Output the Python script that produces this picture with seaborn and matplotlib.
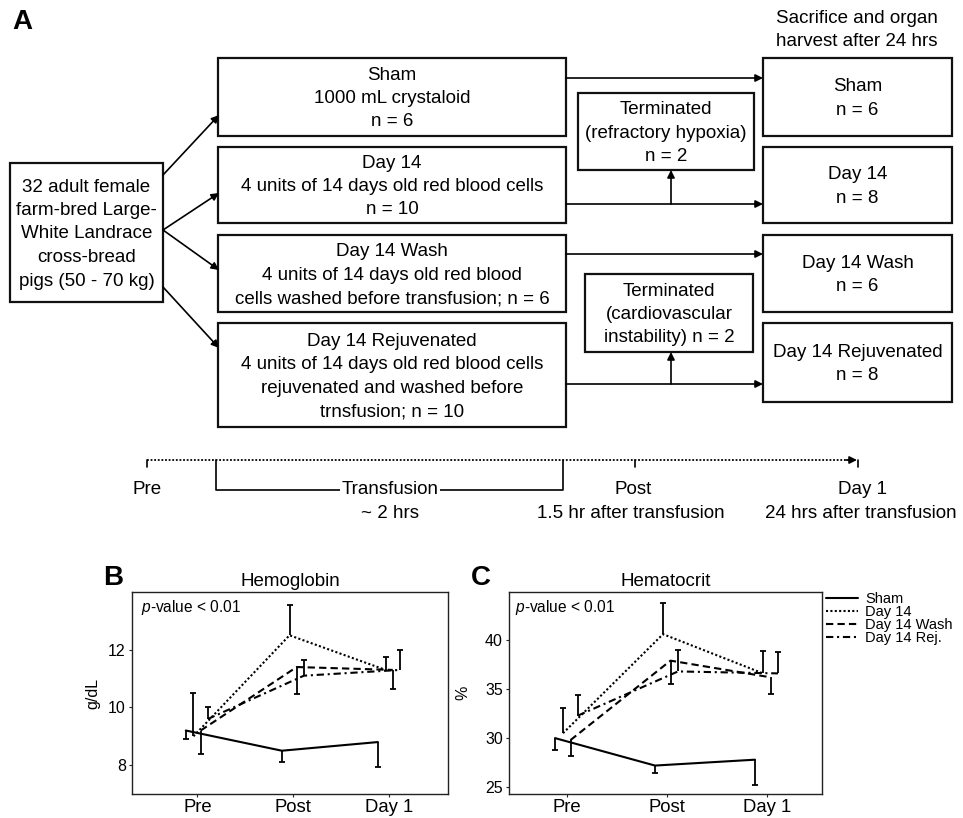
import numpy as np  # For numerical operations
import pandas as pd  # For data manipulation
import matplotlib
matplotlib.use("Agg")
import matplotlib.pyplot as plt  # For basic plotting
from matplotlib.patches import Rectangle
from matplotlib.lines import Line2D
import seaborn as sns  # For statistical visualizations

# Step 1: Data
timepoints = ["Pre", "Post", "Day 1"]
groups = ["Sham", "Day 14", "Day 14 Wash", "Day 14 Rej."]

# Hemoglobin (g/dL): group means and end of the one-sided error bar
hb_sham = [9.2, 8.5, 8.8]
hb_sham_bar = [8.9, 8.1, 7.95]
hb_d14 = [9.0, 12.5, 11.3]
hb_d14_bar = [10.5, 13.55, 11.75]
hb_wash = [9.2, 11.4, 11.3]
hb_wash_bar = [8.4, 10.45, 10.65]
hb_rej = [9.6, 11.1, 11.3]
hb_rej_bar = [10.0, 11.65, 12.0]

# Hematocrit (%)
hct_sham = [30.0, 27.2, 27.8]
hct_sham_bar = [28.8, 26.4, 25.2]
hct_d14 = [30.5, 40.6, 36.6]
hct_d14_bar = [33.1, 43.8, 38.9]
hct_wash = [29.8, 37.9, 36.2]
hct_wash_bar = [28.2, 35.5, 34.5]
hct_rej = [32.3, 36.8, 36.6]
hct_rej_bar = [34.4, 39.0, 38.8]

# Flowchart texts
start_text = "32 adult female\nfarm-bred Large-\nWhite Landrace\ncross-bread\npigs (50 - 70 kg)"
arm_texts = [
    "Sham\n1000 mL crystaloid\nn = 6",
    "Day 14\n4 units of 14 days old red blood cells\nn = 10",
    "Day 14 Wash\n4 units of 14 days old red blood\ncells washed before transfusion; n = 6",
    "Day 14 Rejuvenated\n4 units of 14 days old red blood cells\nrejuvenated and washed before\ntrnsfusion; n = 10",
]
end_texts = ["Sham\nn = 6", "Day 14\nn = 8", "Day 14 Wash\nn = 6", "Day 14 Rejuvenated\nn = 8"]
terminated_texts = ["Terminated\n(refractory hypoxia)\nn = 2",
                    "Terminated\n(cardiovascular\ninstability) n = 2"]
harvest_text = "Sacrifice and organ\nharvest after 24 hrs"
timeline_labels = ["Pre", "Post", "Day 1"]
timeline_notes = ["~ 2 hrs", "1.5 hr after transfusion", "24 hrs after transfusion"]

# Step 2: Styles
sns.set_style("ticks")
plt.rcParams["font.family"] = ["Liberation Sans", "DejaVu Sans"]
plt.rcParams["mathtext.fontset"] = "custom"
plt.rcParams["mathtext.it"] = "Liberation Sans:italic"
plt.rcParams["mathtext.rm"] = "Liberation Sans"
plt.rcParams["text.color"] = "black"
plt.rcParams["axes.labelcolor"] = "black"

dodge = [-0.12, -0.04, 0.035, 0.11]
dash_map = {"Sham": "", "Day 14": (1, 1.1), "Day 14 Wash": (3.5, 2), "Day 14 Rej.": (3.5, 1.8, 1, 1.8)}
FS = 13.5
LS = 1.5


def long_table(means, bars):
    rows = []
    for g, vals, ends, off in zip(groups, means, bars, dodge):
        for i, t in enumerate(timepoints):
            rows.append({"group": g, "time": t, "x": i + off, "mean": vals[i], "bar": ends[i]})
    return pd.DataFrame(rows)


hb = long_table([hb_sham, hb_d14, hb_wash, hb_rej], [hb_sham_bar, hb_d14_bar, hb_wash_bar, hb_rej_bar])
hct = long_table([hct_sham, hct_d14, hct_wash, hct_rej], [hct_sham_bar, hct_d14_bar, hct_wash_bar, hct_rej_bar])

fig = plt.figure(figsize=(9.63, 8.18), dpi=100)
fig.patch.set_facecolor("white")

# Step 3: Panel A flowchart (pixel coordinates)
axA = fig.add_axes([0, 1 - 560 / 818, 1, 560 / 818])
axA.set_xlim(0, 963)
axA.set_ylim(560, 0)
axA.axis("off")


def box(x, y, w, h, txt):
    axA.add_patch(Rectangle((x, y), w, h, fill=False, lw=1.6, ec="#111111"))
    axA.text(x + w / 2, y + h / 2 + 1.5, txt, ha="center", va="center", fontsize=FS, linespacing=LS)


def arrow(x0, y0, x1, y1):
    axA.annotate("", xy=(x1, y1), xytext=(x0, y0),
                 arrowprops=dict(arrowstyle="-|>", lw=1.2, color="black", mutation_scale=11,
                                 shrinkA=0, shrinkB=0))


box(10, 163, 153, 139, start_text)
mid_y = [(58, 78), (147, 76), (235, 77), (323, 104)]
end_y = [(58, 78), (147, 76), (235, 77), (323, 79)]
for (y, h), txt in zip(mid_y, arm_texts):
    box(218, y, 348, h, txt)
for (y, h), txt in zip(end_y, end_texts):
    box(763, y, 189, h, txt)
box(578, 93, 176, 77, terminated_texts[0])
box(585, 274, 168, 78, terminated_texts[1])
axA.text(857, 30, harvest_text, ha="center", va="center", fontsize=FS, linespacing=LS)
axA.text(12, 22, "A", fontsize=20, fontweight="bold", va="center")

arrow(163, 175, 219, 115)
arrow(163, 230, 219, 193)
arrow(163, 230, 219, 270)
arrow(163, 287, 219, 348)
for y in [78, 204, 254, 384]:
    arrow(566, y, 763, y)
arrow(671, 204, 671, 170)
arrow(671, 384, 671, 352)

# timeline
axA.plot([147, 850], [460, 460], color="black", lw=1.3, ls=(0, (1, 1)))
arrow(846, 460, 857, 460)
for x in [147, 635, 858]:
    axA.plot([x, x], [460, 467], color="black", lw=1.2)
axA.plot([216, 216, 563, 563], [460, 490, 490, 460], color="black", lw=1.2)
axA.text(390, 490, "Transfusion", ha="center", va="center", fontsize=FS,
         bbox=dict(fc="white", ec="none", pad=1))
for x, lab in zip([147, 633, 863], timeline_labels):
    axA.text(x, 490, lab, ha="center", va="center", fontsize=FS)
for x, lab in zip([390, 631, 861], timeline_notes):
    axA.text(x, 514, lab, ha="center", va="center", fontsize=FS)

# Step 4: Panels B and C
axB = fig.add_axes([132 / 963, 1 - 794 / 818, 316 / 963, 202 / 818])
axC = fig.add_axes([509 / 963, 1 - 794 / 818, 313 / 963, 202 / 818])

panels = [(axB, hb, "Hemoglobin", "g/dL", (7, 14), [8, 10, 12], (-0.68, 2.61), "B", -0.1),
          (axC, hct, "Hematocrit", "%", (24.3, 44.9), [25, 30, 35, 40], (-0.58, 2.55), "C", -0.125)]

for ax, df, title, ylab, ylim, yt, xl, letter, labx in panels:
    sns.lineplot(data=df, x="x", y="mean", style="group", dashes=dash_map, color="black",
                 lw=1.5, ax=ax, legend=False, estimator=None)
    ax.vlines(df["x"], df["mean"], df["bar"], color="black", lw=1.3)
    ax.scatter(df["x"], df["bar"], marker="_", s=22, color="black", lw=1.3)
    ax.set_ylim(*ylim)
    ax.set_xlim(*xl)
    ax.set_yticks(yt)
    ax.set_xticks(range(len(timepoints)))
    ax.set_xticklabels(timepoints)
    ax.tick_params(axis="x", labelsize=13.3, length=2.5, width=0.8, pad=1,
                   color="#222222", labelcolor="black")
    ax.tick_params(axis="y", labelsize=11.5, length=2.5, width=0.8, pad=2,
                   color="#222222", labelcolor="black")
    ax.set_xlabel("")
    ax.set_ylabel(ylab, fontsize=11.5)
    ax.yaxis.set_label_coords(labx, 0.5)
    ax.set_title(title, fontsize=13.5, pad=4)
    for s in ax.spines.values():
        s.set_visible(True)
        s.set_color("#222222")
        s.set_linewidth(1.0)
    ax.text(0.03 if letter == "B" else 0.02, 0.925, r"$p$-value < 0.01", transform=ax.transAxes,
            fontsize=11.2, va="center", ha="left")

fig.text(103 / 963, 1 - 578 / 818, "B", fontsize=20, fontweight="bold", va="center")
fig.text(471 / 963, 1 - 578 / 818, "C", fontsize=20, fontweight="bold", va="center")

# legend next to panel C
handles = [Line2D([], [], color="black", lw=1.5)]
for g in groups[1:]:
    handles.append(Line2D([], [], color="black", lw=1.5, dashes=dash_map[g]))
fig.legend(handles, groups, loc="upper left", bbox_to_anchor=(826 / 963, 1 - 592 / 818),
           frameon=False, fontsize=10.5, handlelength=2.2, handletextpad=0.5,
           labelspacing=-0.06, borderpad=0, borderaxespad=0)

fig.savefig("out.png", dpi=100, facecolor="white")
